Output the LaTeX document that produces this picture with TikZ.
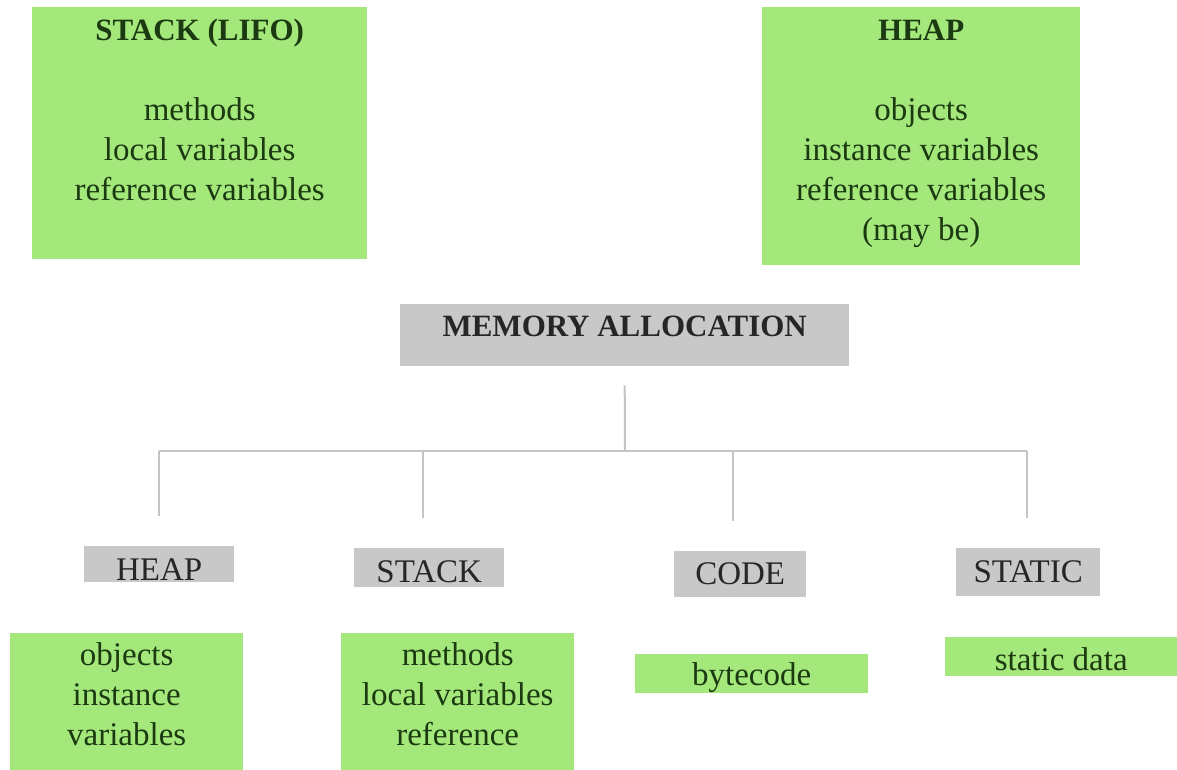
\documentclass[tikz,border=0pt]{standalone}
\usepackage{fontspec}
\setmainfont{Liberation Serif}
\usepackage{xcolor}
\usetikzlibrary{positioning}
\definecolor{boxgreen}{HTML}{A4E87B}
\definecolor{boxgray}{HTML}{C8C8C8}
\definecolor{wiregray}{HTML}{C4C4C4}
\definecolor{textgreen}{HTML}{1C3A12}
\newcommand{\memfont}{\fontsize{33}{40}\selectfont}
\newcommand{\memtitle}[1]{{\fontsize{31}{40}\selectfont\textbf{#1}}}

\begin{document}
\begin{tikzpicture}[x=1pt,y=-1pt,
	greenbox/.style={fill=boxgreen,inner sep=0pt,anchor=north west},
	graybox/.style={fill=boxgray,inner sep=0pt,anchor=north west,text=black!85,font=\memfont},
	greenlbl/.style={fill=boxgreen,inner sep=0pt,anchor=north west,text=textgreen,font=\memfont},
	boxtext/.style={align=center,inner sep=0pt,text=textgreen,font=\memfont},
	wire/.style={draw=wiregray,line width=2pt},
	]
	\useasboundingbox (0,0) rectangle (1177,770);

	% top boxes
	\node[greenbox,minimum width=335pt,minimum height=252pt] (stackbox) at (32,7) {};
	\node[boxtext,below=5pt of stackbox.north] (stacktext) {\strut\memtitle{STACK (LIFO)}\\ \\ methods\\ local variables\\ reference variables};
	\node[greenbox,minimum width=318pt,minimum height=258pt] (heapbox) at (762,7) {};
	\node[boxtext,below=5pt of heapbox.north] (heaptext) {\strut\memtitle{HEAP}\\ \\ objects\\ instance variables\\ reference variables\\ (may be)};

	% root
	\node[graybox,minimum width=449pt,text height=32pt,text depth=30pt] (memalloc) at (400,304) {\memtitle{MEMORY ALLOCATION}};

	% areas
	\node[graybox,minimum width=150pt,text height=34pt,text depth=2pt] (heaplbl) at (84,546) {HEAP};
	\node[graybox,minimum width=150pt,text height=34pt,text depth=5pt] (stacklbl) at (354,548) {STACK};
	\node[graybox,minimum width=132pt,text height=33pt,text depth=13pt] (codelbl) at (674,551) {CODE};
	\node[graybox,minimum width=144pt,text height=34pt,text depth=14pt] (staticlbl) at (956,548) {STATIC};

	% contents
	\node[greenbox,minimum width=233pt,minimum height=137pt] (heapcont) at (10,633) {};
	\node[boxtext,below=4pt of heapcont.north] (heapconttext) {\strut objects\\ instance\\ variables};
	\node[greenbox,minimum width=233pt,minimum height=137pt] (stackcont) at (341,633) {};
	\node[boxtext,below=4pt of stackcont.north] (stackconttext) {\strut methods\\ local variables\\ reference};
	\node[greenlbl,minimum width=233pt,text height=31pt,text depth=8pt] (codecont) at (635,654) {bytecode};
	\node[greenlbl,minimum width=232pt,text height=33pt,text depth=6pt] (staticcont) at (945,637) {static data};

	% tree
	\coordinate (bus) at (625,451);
	\draw[wire] ([yshift=-19pt]memalloc.south) -- (bus);
	\draw[wire] (heaplbl.north |- bus) -- ([xshift=-1pt]staticlbl.north |- bus);
	\foreach \n/\dx in {heaplbl/0,stacklbl/-6,codelbl/-7,staticlbl/-1}
		\draw[wire] ([xshift=\dx pt]\n.north |- bus) -- ([xshift=\dx pt,yshift=30pt]\n.north);

\end{tikzpicture}
\end{document}
